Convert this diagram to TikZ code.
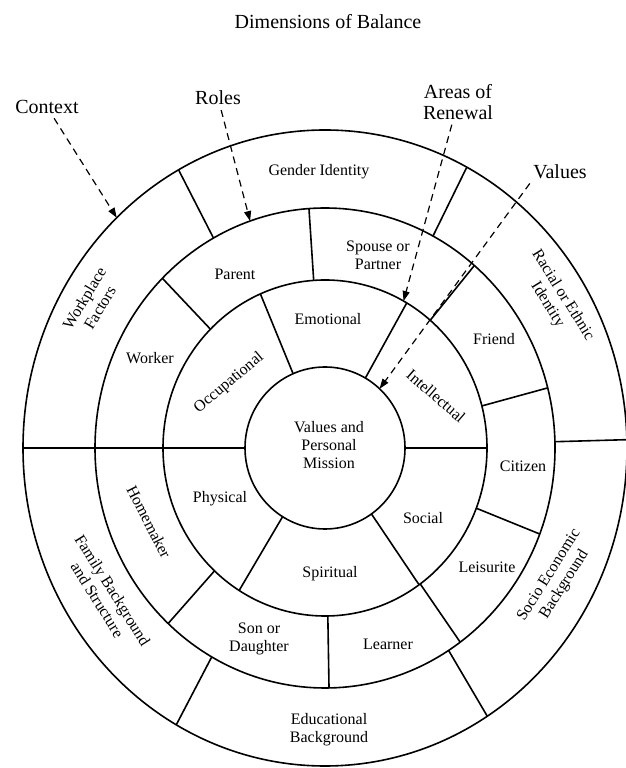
\documentclass[tikz,border=0pt]{standalone}
\usepackage{fontspec}
\setmainfont{Liberation Serif}
\usetikzlibrary{arrows.meta, positioning, calc}

\begin{document}
\begin{tikzpicture}[x=1pt, y=1pt,
  wheel/.style={line width=1.6pt},
  rim/.style={font=\fontsize{16}{18}\selectfont, align=center, inner sep=1pt},
  callout/.style={font=\fontsize{20}{21}\selectfont, align=center, inner sep=1pt},
  pointer/.style={line width=1.2pt, dash pattern=on 7pt off 5pt, shorten <=4pt,
    -{Triangle[length=10pt,width=7pt]}}]
\useasboundingbox (0,0) rectangle (626,768);
% Rings
\coordinate (ctr) at (325,320);
\draw[wheel] (ctr) ellipse [x radius=80pt, y radius=81pt];
\draw[wheel] (ctr) ellipse [x radius=162pt, y radius=168pt];
\draw[wheel] (ctr) ellipse [x radius=230pt, y radius=240pt];
\draw[wheel] (ctr) ellipse [x radius=302pt, y radius=318pt];
% Spokes
\foreach \a in {113.5,59.7,0,-54.5,-122,180}
  \draw[wheel] ($(ctr)+(\a:80pt and 81pt)$) -- ($(ctr)+(\a:162pt and 168pt)$);
\foreach \a in {135,94,49.5,14.5,-21,-54,-89,-133,180}
  \draw[wheel] ($(ctr)+(\a:162pt and 168pt)$) -- ($(ctr)+(\a:230pt and 240pt)$);
\foreach \a in {119,62,1.5,-57.5,-119.5,180}
  \draw[wheel] ($(ctr)+(\a:230pt and 240pt)$) -- ($(ctr)+(\a:302pt and 318pt)$);
% Centre and areas of renewal
\node[rim] (mission) at (329,323) {Values and\\Personal\\Mission};
\node[rim] (emotional) at (328,449) {Emotional};
\node[rim, rotate=-41] (intellectual) at (436,372) {Intellectual};
\node[rim] (social) at (423,250) {Social};
\node[rim] (spiritual) at (330,194) {Spiritual};
\node[rim] (physical) at (220,269) {Physical};
\node[rim, rotate=40] (occupational) at (229,385) {Occupational};
% Roles
\node[rim] (parent) at (235,494) {Parent};
\node[rim] (spouse) at (378,513) {Spouse or\\Partner};
\node[rim] (friend) at (494,429) {Friend};
\node[rim] (citizen) at (523,302) {Citizen};
\node[rim] (leisurite) at (487,201) {Leisurite};
\node[rim] (learner) at (388,124) {Learner};
\node[rim] (sondaughter) at (259,129) {Son or\\Daughter};
\node[rim, rotate=-63] (homemaker) at (149,246) {Homemaker};
\node[rim] (worker) at (150,410) {Worker};
% Context
\node[rim] (gender) at (319,596) {Gender Identity};
\node[rim, rotate=-58] (racial) at (555,468) {Racial or Ethnic\\Identity};
\node[rim, rotate=58] (socio) at (557,188) {Socio Economic\\Background};
\node[rim] (educ) at (329,38) {Educational\\Background};
\node[rim, rotate=-58] (family) at (105,173) {Family Background\\and Structure};
\node[rim, rotate=59] (workplace) at (92,465) {Workplace\\Factors};
% Annotation
\node[callout] (title) at (328,746) {Dimensions of Balance};
\node[callout] (context) at (47,661) {Context};
\node[callout] (roles) at (218,670) {Roles};
\node[callout] (renewal) at (458,666) {Areas of\\Renewal};
\node[callout] (values) at (560,596) {Values};
\coordinate (ctxtip) at ($(ctr)+(133.6:302pt and 318pt)$);
\coordinate (roletip) at ($(ctr)+(109:230pt and 240pt)$);
\coordinate (renewtip) at ($(ctr)+(61:162pt and 168pt)$);
\coordinate (valtip) at ($(ctr)+(47:80pt and 81pt)$);
\draw[pointer] (context) -- (ctxtip);
\draw[pointer] (roles) -- (roletip);
\draw[pointer] (renewal) -- (renewtip);
\draw[pointer] (values.south west) -- (valtip);
\end{tikzpicture}
\end{document}
